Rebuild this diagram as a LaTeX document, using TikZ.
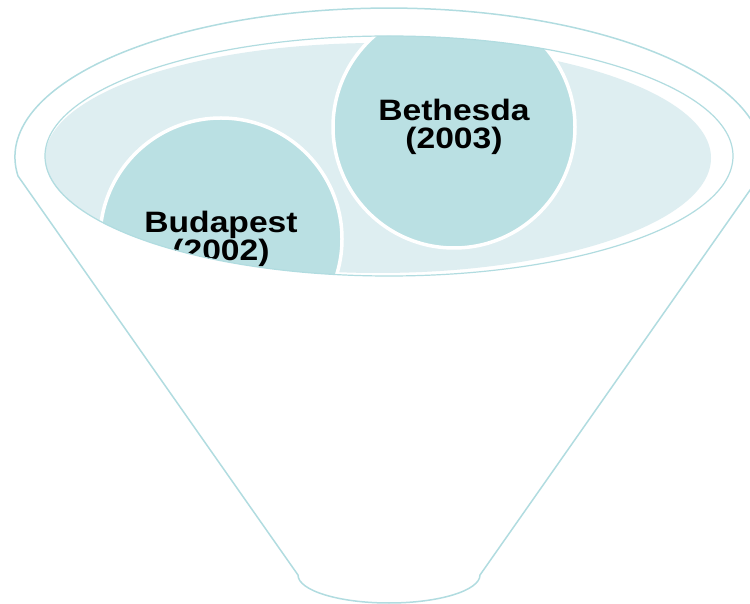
\documentclass[tikz,border=0pt]{standalone}
\usepackage{fontspec}
\setmainfont{Liberation Sans}
\newfontfamily\balltext[FakeStretch=1.14]{Liberation Sans}
\usetikzlibrary{positioning}
\definecolor{FunnelLine}{HTML}{B1DCE0}
\definecolor{FunnelLight}{HTML}{DEEEF1}
\definecolor{FunnelBall}{HTML}{BAE0E3}

\begin{document}
\begin{tikzpicture}[x=1pt,y=1pt,
    rim/.style={draw=FunnelLine,line width=1.5pt},
    ball/.style={circle,fill=FunnelBall,draw=white,line width=3.5pt,
      minimum size=242pt,inner sep=0pt,align=center,
      font=\balltext\bfseries\fontsize{29.5}{28}\selectfont}
  ]
    \clip (0,0) rectangle (750,603);
    % funnel body
    \coordinate (topL) at (18,427);
    \coordinate (botR) at (480,28);
    \draw[rim,fill=white] (topL)
      arc[start angle=187.3,end angle=-7.3,x radius=374,y radius=149]
      -- (botR)
      arc[start angle=0,end angle=-180,x radius=91,y radius=28]
      -- cycle;
    % mouth
    \fill[FunnelLight] (378,445) ellipse[x radius=333,y radius=115];
    \begin{scope}
      \clip (389,447) ellipse[x radius=344,y radius=120];
      \node[ball] (budapest) at (221,364) {Budapest\\(2002)};
      \node[ball] (bethesda) at (454,476) {Bethesda\\(2003)};
    \end{scope}
    \draw[rim,line width=1.2pt] (389,447) ellipse[x radius=344,y radius=120];
  \end{tikzpicture}
\end{document}
